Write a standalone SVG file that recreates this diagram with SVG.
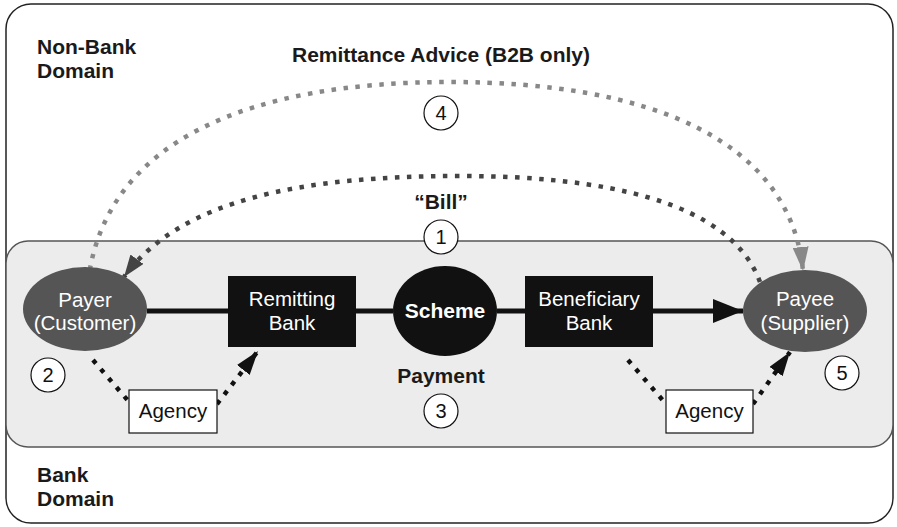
<svg xmlns="http://www.w3.org/2000/svg" width="897" height="527" viewBox="0 0 897 527">
<style>
.lbl{font-family:"Liberation Sans",Arial,sans-serif;font-weight:bold;font-size:21px;fill:#1a1a1a}
.nt{font-family:"Liberation Sans",Arial,sans-serif;font-size:20.5px;fill:#fff;text-anchor:middle}
.ag{font-family:"Liberation Sans",Arial,sans-serif;font-size:20.5px;fill:#111;text-anchor:middle}
.num{font-family:"Liberation Sans",Arial,sans-serif;font-size:20px;fill:#111;text-anchor:middle}
.circ{fill:#fff;stroke:#111;stroke-width:1.2}
.dotk{fill:none;stroke:#111;stroke-width:4.5;stroke-dasharray:4.5 7.5}
.dotd{fill:none;stroke:#444;stroke-width:4.5;stroke-dasharray:4.5 7.5}
.dotg{fill:none;stroke:#888;stroke-width:4.5;stroke-dasharray:4.5 7.5}
</style>
<defs>
<marker id="ak" markerUnits="userSpaceOnUse" markerWidth="26" markerHeight="16" refX="24" refY="8" orient="auto"><path d="M0,0 L24,8 L0,16 z" fill="#111"/></marker>
<marker id="ad" markerUnits="userSpaceOnUse" markerWidth="24" markerHeight="16" refX="22" refY="8" orient="auto"><path d="M0,0 L22,8 L0,16 z" fill="#444"/></marker>
<marker id="ag" markerUnits="userSpaceOnUse" markerWidth="26" markerHeight="16" refX="24" refY="8" orient="auto"><path d="M0,0 L24,8 L0,16 z" fill="#888"/></marker>
<marker id="ap" markerUnits="userSpaceOnUse" markerWidth="32" markerHeight="24" refX="30" refY="12" orient="auto"><path d="M0,0 L30,12 L0,24 z" fill="#111"/></marker>
</defs>
<rect x="0" y="0" width="897" height="527" fill="#fff"/>
<g id="nonbank-domain">
<rect x="6" y="4" width="887" height="519" rx="25" fill="#fff" stroke="#222" stroke-width="1.5"/>
<text class="lbl" x="37" y="54">Non-Bank</text>
<text class="lbl" x="37" y="78">Domain</text>
</g>
<g id="bank-domain">
<rect x="6" y="241" width="887" height="206" rx="22" fill="#ececec" stroke="#555" stroke-width="1.5"/>
<text class="lbl" x="37" y="482">Bank</text>
<text class="lbl" x="37" y="506">Domain</text>
</g>
<g id="connectors">
<line x1="147" y1="311" x2="228" y2="311" stroke="#111" stroke-width="5"/>
<line x1="356" y1="311" x2="393" y2="311" stroke="#111" stroke-width="5"/>
<line x1="497" y1="311" x2="525" y2="311" stroke="#111" stroke-width="5"/>
<line x1="653" y1="311" x2="743" y2="311" stroke="#111" stroke-width="5" marker-end="url(#ap)"/>
<path class="dotg" d="M88 282 C105 140, 250 82, 450 82 C650 82, 790 140, 803 271" marker-end="url(#ag)"/>
<path class="dotd" d="M760 282 C730 200, 600 176, 460 176 C300 176, 180 200, 124 277" marker-end="url(#ad)"/>
<line class="dotk" x1="93" y1="360" x2="130" y2="403"/>
<line class="dotk" x1="217" y1="404" x2="258" y2="351" marker-end="url(#ak)"/>
<line class="dotk" x1="628" y1="360" x2="666" y2="404"/>
<line class="dotk" x1="753" y1="404" x2="790" y2="352" marker-end="url(#ak)"/>
</g>
<g id="payer">
<ellipse cx="85" cy="309" rx="62" ry="42" fill="#555"/>
<text class="nt" x="85" y="307">Payer</text>
<text class="nt" x="85" y="330">(Customer)</text>
</g>
<g id="remitting-bank">
<rect x="228" y="276" width="128" height="71" fill="#111"/>
<text class="nt" x="292" y="306">Remitting</text>
<text class="nt" x="292" y="330">Bank</text>
</g>
<g id="scheme">
<ellipse cx="445" cy="311" rx="52" ry="45" fill="#111"/>
<text class="nt" x="445" y="318" font-weight="bold" style="font-size:21px">Scheme</text>
</g>
<g id="beneficiary-bank">
<rect x="525" y="276" width="128" height="71" fill="#111"/>
<text class="nt" x="589" y="306">Beneficiary</text>
<text class="nt" x="589" y="330">Bank</text>
</g>
<g id="payee">
<ellipse cx="805" cy="311" rx="62" ry="41" fill="#555"/>
<text class="nt" x="805" y="306">Payee</text>
<text class="nt" x="805" y="330">(Supplier)</text>
</g>
<g id="agency-left">
<rect x="129" y="390" width="88" height="43" fill="#fff" stroke="#111" stroke-width="1.2"/>
<text class="ag" x="173" y="418">Agency</text>
</g>
<g id="agency-right">
<rect x="666" y="390" width="87" height="43" fill="#fff" stroke="#111" stroke-width="1.2"/>
<text class="ag" x="709.5" y="418">Agency</text>
</g>
<g id="labels">
<text class="lbl" x="441" y="62" text-anchor="middle">Remittance Advice (B2B only)</text>
<text class="lbl" x="441" y="209" text-anchor="middle">“Bill”</text>
<text class="lbl" x="441" y="383" text-anchor="middle">Payment</text>
</g>
<g id="step-1"><circle class="circ" cx="441" cy="237" r="17"/><text class="num" x="441" y="244">1</text></g>
<g id="step-2"><circle class="circ" cx="48" cy="375" r="17"/><text class="num" x="48" y="382">2</text></g>
<g id="step-3"><circle class="circ" cx="441" cy="411" r="17"/><text class="num" x="441" y="418">3</text></g>
<g id="step-4"><circle class="circ" cx="441" cy="113" r="17"/><text class="num" x="441" y="120">4</text></g>
<g id="step-5"><circle class="circ" cx="842" cy="373" r="17"/><text class="num" x="842" y="380">5</text></g>
</svg>
